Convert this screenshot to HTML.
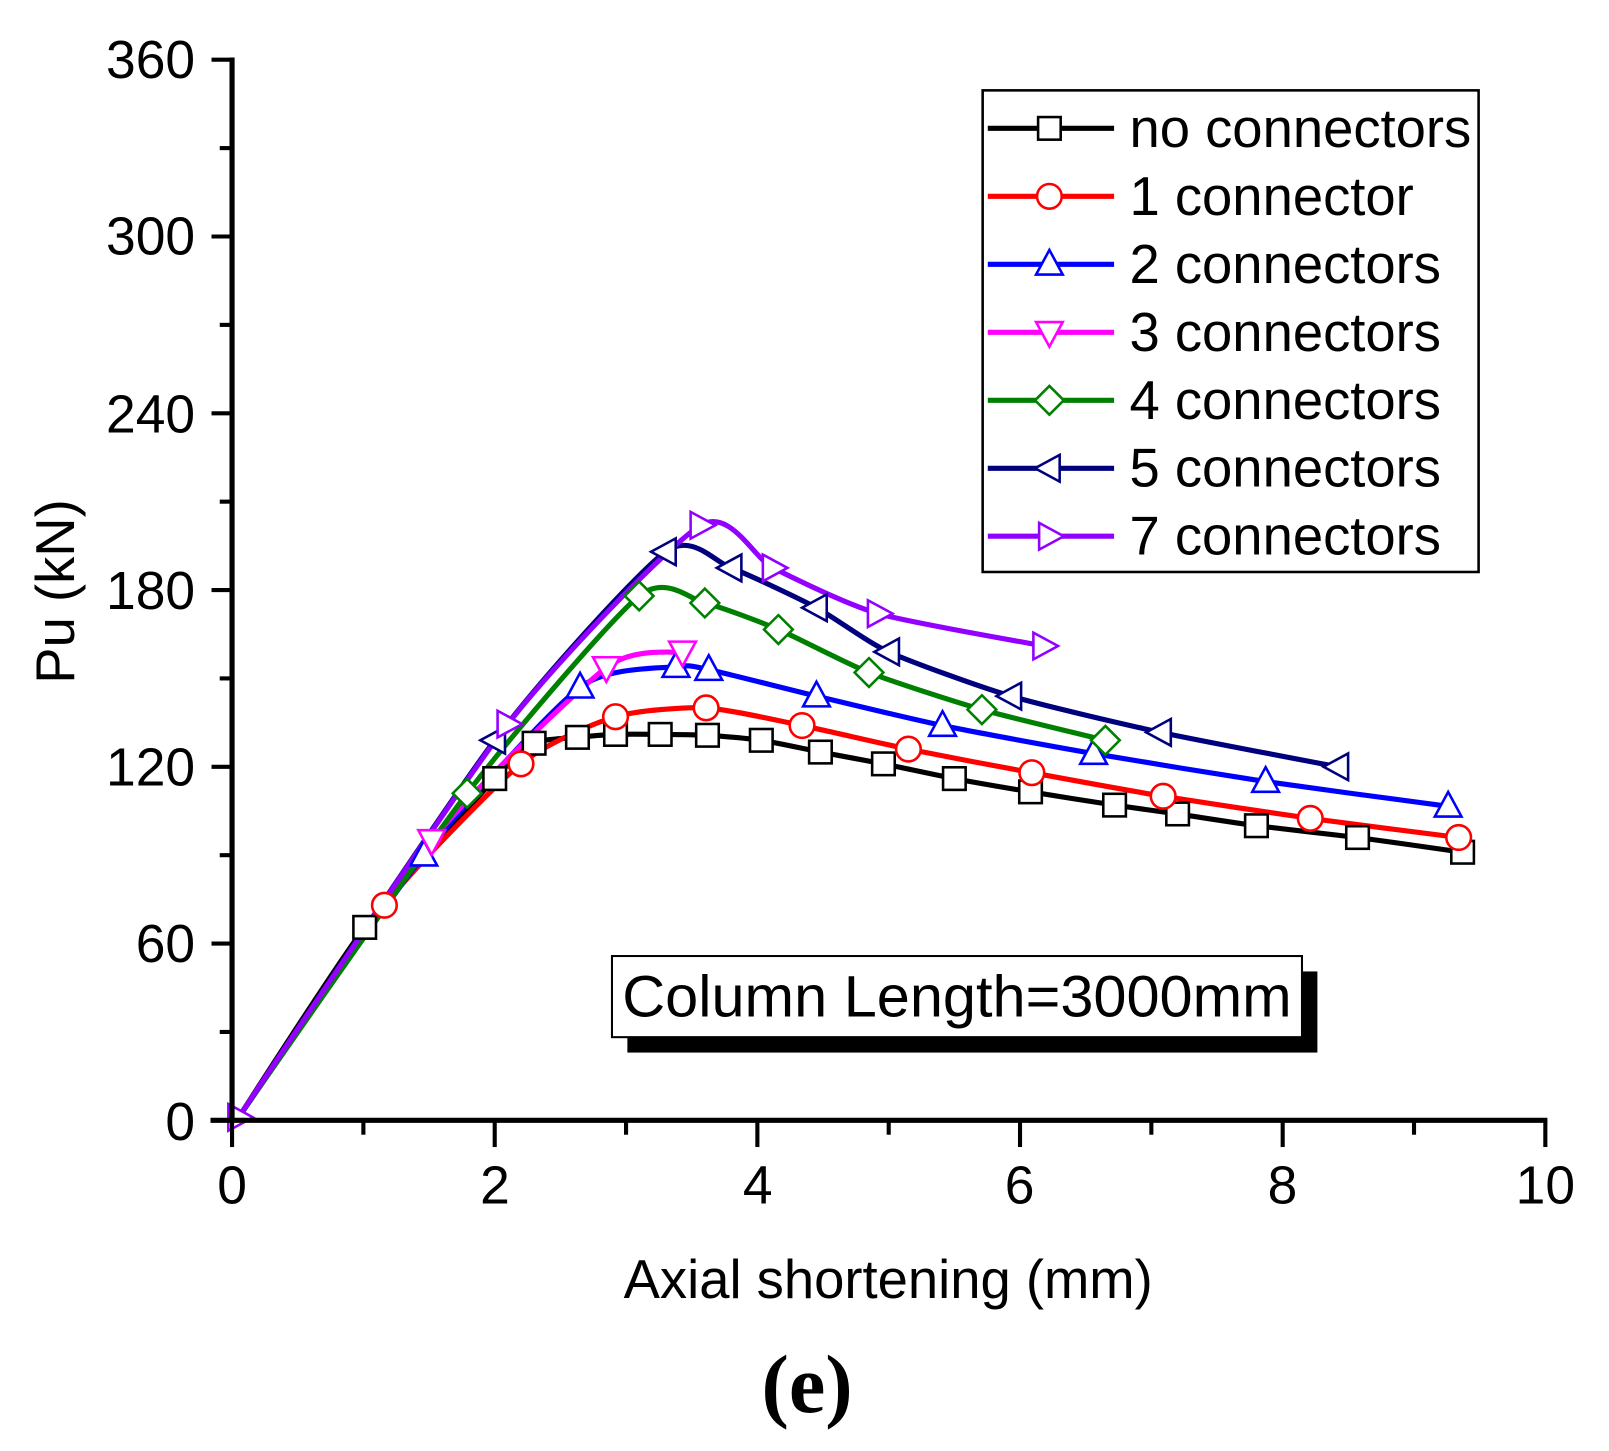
<!DOCTYPE html>
<html><head><meta charset="utf-8"><style>
html,body{margin:0;padding:0;background:#fff;}
svg{display:block;}
text{font-family:"Liberation Sans",Arial,sans-serif;}
</style></head><body>
<svg id="s" width="1609" height="1451" viewBox="0 0 1567 1413" preserveAspectRatio="none" xmlns="http://www.w3.org/2000/svg">
<rect width="1567" height="1413" fill="#fff"/>
<g id="curves"></g>
<g id="marks"></g>
<line x1="226" y1="56" x2="226" y2="1093" stroke="#000" stroke-width="5"/>
<line x1="205" y1="1091" x2="1507" y2="1091" stroke="#000" stroke-width="5"/>
<g id="ticks" stroke="#000" stroke-width="4"></g>
<g font-size="52" fill="#000" text-anchor="end">
<text x="190" y="76">360</text><text x="190" y="248">300</text><text x="190" y="421">240</text>
<text x="190" y="593">180</text><text x="190" y="765">120</text><text x="190" y="937">60</text><text x="190" y="1110">0</text>
</g>
<g font-size="52" fill="#000" text-anchor="middle">
<text x="226" y="1172">0</text><text x="482" y="1172">2</text><text x="738" y="1172">4</text>
<text x="993" y="1172">6</text><text x="1249" y="1172">8</text><text x="1505" y="1172">10</text>
</g>
<text x="865" y="1264" font-size="53" text-anchor="middle">Axial shortening (mm)</text>
<text transform="translate(72,576) rotate(-90)" font-size="53" text-anchor="middle">Pu (kN)</text>
<text x="786" y="1375" font-size="80" font-weight="bold" text-anchor="middle" style="font-family:'Liberation Serif',serif">(e)</text>
<rect x="611" y="946" width="672" height="79" fill="#000"/>
<rect x="596" y="931" width="672" height="79" fill="#fff" stroke="#000" stroke-width="2"/>
<text x="606" y="990" font-size="57" textLength="652" lengthAdjust="spacingAndGlyphs">Column Length=3000mm</text>
<rect x="957" y="88" width="483" height="469" fill="#fff" stroke="#000" stroke-width="2.5"/>
<g id="leg"></g>
</svg>
<script>
const X=v=>226+v*127.9, Y=v=>1091-v*2.869;
const NS="http://www.w3.org/2000/svg";
function el(p,t,a){const e=document.createElementNS(NS,t);for(const k in a)e.setAttribute(k,a[k]);p.appendChild(e);return e;}
const tk=document.getElementById('ticks');
for(let v=0;v<=360;v+=30){const y=Y(v);el(tk,'line',{x1:v%60?214:206,y1:y,x2:226,y2:y});}
for(let v=0;v<=10;v+=1){const x=X(v);el(tk,'line',{x1:x,y1:1091,x2:x,y2:v%2?1105:1117});}
const S=[
["no connectors","#000","sq",[[1.01,65.5],[2.0,116],[2.3,128],[2.63,130],[2.92,131],[3.26,131],[3.62,130.7],[4.03,129],[4.48,125],[4.96,121],[5.5,116],[6.08,111.5],[6.72,107],[7.2,104],[7.8,100],[8.57,96],[9.37,91]]],
["1 connector","#f00","ci",[[1.16,73],[2.2,121],[2.92,137],[3.61,140],[4.34,134],[5.15,126],[6.09,118],[7.09,110],[8.21,102.5],[9.34,96]]],
["2 connectors","#00f","up",[[1.46,90],[2.65,147],[3.38,154],[3.63,153],[4.45,144],[5.41,134],[6.56,124.5],[7.87,115],[9.26,106.6]]],
["3 connectors","#f0f","dn",[[1.52,95],[2.85,153.7],[3.43,159]]],
["4 connectors","#008000","di",[[1.79,111],[3.1,178],[3.6,175.6],[4.16,166.6],[4.85,152],[5.71,139.4],[6.65,129]]],
["5 connectors","#00007f","lt",[[2.0,129],[3.3,193],[3.8,187.5],[4.45,174],[5.0,159],[5.93,144],[7.07,131.7],[8.42,120]]],
["7 connectors","#9400ff","rt",[[2.1,134.5],[3.57,202],[4.12,187.5],[4.92,172],[6.18,161]]]
];
function marker(g,type,x,y,c){const r=12;const a={fill:'#fff',stroke:c,'stroke-width':2.5};
 if(type=='sq')el(g,'rect',Object.assign({x:x-r+1,y:y-r+1,width:2*r-2,height:2*r-2},a));
 else if(type=='ci')el(g,'circle',Object.assign({cx:x,cy:y,r:r},a));
 else{let p;if(type=='up')p=[[x,y-r-2],[x+r+1,y+r-2],[x-r-1,y+r-2]];
 if(type=='dn')p=[[x,y+r+2],[x+r+1,y-r+2],[x-r-1,y-r+2]];
 if(type=='di')p=[[x,y-r-2],[x+r+2,y],[x,y+r+2],[x-r-2,y]];
 if(type=='lt')p=[[x-r-2,y],[x+r-2,y-r-1],[x+r-2,y+r+1]];
 if(type=='rt')p=[[x+r+2,y],[x-r+2,y-r-1],[x-r+2,y+r+1]];
 el(g,'polygon',Object.assign({points:p.map(q=>q.join(',')).join(' ')},a));}}
function path(pts){let d=`M${pts[0][0]},${pts[0][1]}`;const T=1/9;
 for(let i=0;i<pts.length-1;i++){const p0=pts[i-1]||pts[i],p1=pts[i],p2=pts[i+1],p3=pts[i+2]||p2;
 const t=(i==0)?0:T;
 d+=` C${p1[0]+(p2[0]-p0[0])*t},${p1[1]+(p2[1]-p0[1])*t} ${p2[0]-(p3[0]-p1[0])*T},${p2[1]-(p3[1]-p1[1])*T} ${p2[0]},${p2[1]}`;}
 return d;}
const cg=document.getElementById('curves'),mg=document.getElementById('marks'),lg=document.getElementById('leg');
S.forEach((s,i)=>{const pts=[[X(0.05),Y(1)]].concat(s[3].map(p=>[X(p[0]),Y(p[1])]));
 el(cg,'path',{d:path(pts),fill:'none',stroke:s[1],'stroke-width':5});
});
S.forEach((s,i)=>{s[3].forEach(p=>marker(mg,s[2],X(p[0]),Y(p[1]),s[1]));
 const y=125+i*66.2;
 el(lg,'line',{x1:962,y1:y,x2:1085,y2:y,stroke:s[1],'stroke-width':5});
 marker(lg,s[2],1022,y,s[1]);
 const t=el(lg,'text',{x:1100,y:y+18,'font-size':53});t.textContent=s[0];});
marker(mg,'rt',X(0.05),Y(1),'#9400ff');
</script>
</body></html>
